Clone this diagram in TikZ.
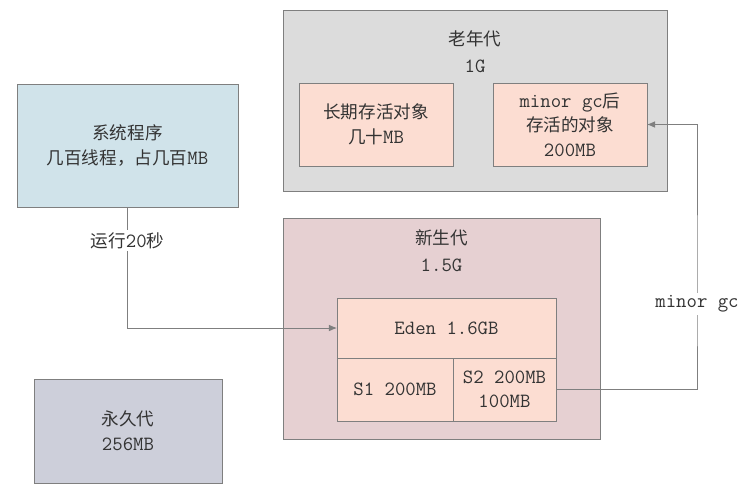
\documentclass[tikz,border=0pt]{standalone}
\usepackage{fontspec}
\setmainfont{Noto Sans CJK SC}
\setmonofont[Scale=1.15]{Latin Modern Mono}
\usetikzlibrary{arrows.meta, positioning, shadows}
\definecolor{edgegray}{HTML}{7F7F7F}
\definecolor{textgray}{HTML}{333333}
\definecolor{oldfill}{HTML}{DCDCDC}
\definecolor{youngfill}{HTML}{E6D0D2}
\definecolor{objfill}{HTML}{FCDDD2}
\definecolor{sysfill}{HTML}{D0E3EA}
\definecolor{permfill}{HTML}{CDCFDA}
\newcommand{\lat}[1]{{\ttfamily #1}}

\begin{document}
\begin{tikzpicture}[
    x=0.03cm, y=-0.03cm,
    region/.style={rectangle, draw=edgegray, line width=0.8pt, inner sep=0pt,
                   outer sep=0pt, align=center, text=textgray,
                   font=\fontsize{15}{21}\selectfont,
                   drop shadow={shadow xshift=1.2pt, shadow yshift=-1.2pt, opacity=0.2}},
    area/.style={rectangle, draw=edgegray, line width=0.8pt, inner sep=0pt,
                 outer sep=0pt, fill=objfill, align=center, text=textgray,
                 font=\fontsize{15}{21}\selectfont},
    title/.style={align=center, text=textgray, font=\fontsize{15}{23}\selectfont},
    link/.style={-{Latex[length=2.4mm, width=2mm]}, draw=edgegray, line width=0.8pt},
    lbl/.style={fill=white, inner sep=2pt, text=textgray,
                font=\fontsize{15}{21}\selectfont},
]
\useasboundingbox (0,0) rectangle (751,491);

% Old generation
\node[region, fill=oldfill, minimum width=11.52cm, minimum height=5.43cm] (old) at (475,100.5) {};
\node[title] (oldlbl) at (475,52) {老年代\\\lat{1G}};
\node[area, minimum width=4.62cm, minimum height=2.49cm] (long) at (376,124.5)
    {长期存活对象\\几十\lat{MB}};
\node[area, minimum width=4.62cm, minimum height=2.49cm] (surv) at (570,124.5)
    {\lat{minor gc}后\\存活的对象\\\lat{200MB}};

% Young generation
\node[region, fill=youngfill, minimum width=9.51cm, minimum height=6.63cm] (young) at (441.5,328.5) {};
\node[title] (younglbl) at (441.5,250.5) {新生代\\\lat{1.5G}};
\node[area, minimum width=6.57cm, minimum height=1.8cm] (eden) at (446.5,328) {\lat{Eden 1.6GB}};
\node[area, minimum width=3.48cm, minimum height=1.89cm,
      below right=0pt and 0pt of eden.south west] (sone) {\lat{S1 200MB}};
\node[area, minimum width=3.09cm, minimum height=1.89cm,
      right=0pt of sone] (stwo) {\lat{S2 200MB}\\\lat{100MB}};

% System and permanent generation
\node[region, fill=sysfill, minimum width=6.63cm, minimum height=3.69cm] (sys) at (127.5,145.5)
    {系统程序\\几百线程，占几百\lat{MB}};
\node[region, fill=permfill, minimum width=5.64cm, minimum height=3.12cm] (perm) at (128,431)
    {永久代\\\lat{256MB}};

\coordinate (gcx) at (697,304);

\draw[link] (sys.south) |- node[lbl, pos=0.14] {运行\lat{20}秒} (eden.west);
\draw[link] (stwo.east) -| (gcx) node[lbl] {\lat{minor gc}} |- (surv.east);

\end{tikzpicture}
\end{document}
